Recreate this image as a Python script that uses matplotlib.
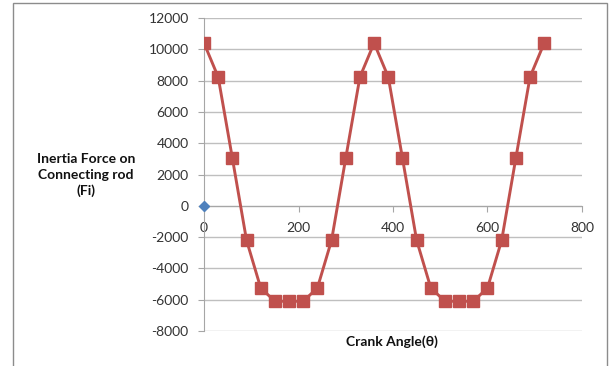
import matplotlib
matplotlib.use('Agg')
import matplotlib.pyplot as plt
from matplotlib.patches import Rectangle

# Crank angle (deg) and inertia force on connecting rod
angles = [0, 30, 60, 90, 120, 150, 180, 210, 240, 270, 300, 330, 360,
          390, 420, 450, 480, 510, 540, 570, 600, 630, 660, 690, 720]
force = [10400, 8230, 3050, -2200, -5250, -6100, -6100, -6100, -5250, -2200, 3050, 8230, 10400,
         8230, 3050, -2200, -5250, -6100, -6100, -6100, -5250, -2200, 3050, 8230, 10400]
origin_x = [0]
origin_y = [0]

xticks = [0, 200, 400, 600, 800]
yticks = list(range(-8000, 12001, 2000))

plt.rcParams['font.family'] = ['Lato', 'DejaVu Sans']
plt.rcParams['axes.unicode_minus'] = False

fig = plt.figure(figsize=(6.1, 3.66), dpi=100)
ax = fig.add_axes([204 / 610, 1 - 331 / 366, (582 - 204) / 610, (331 - 18) / 366])

ax.plot(angles, force, color='#C0504D', linewidth=2.1, marker='s', markersize=8,
        markeredgecolor='#C0504D', markerfacecolor='#C0504D', zorder=3)
ax.plot(origin_x, origin_y, linestyle='none', marker='D', markersize=5.5,
        color='#4F81BD', zorder=4, clip_on=False)

ax.set_xlim(0, 800)
ax.set_ylim(-8000, 12000)
ax.set_xticks(xticks)
ax.set_yticks(yticks)
ax.yaxis.grid(True, color='#BFBFBF', linewidth=1.0)
ax.set_axisbelow(True)

for s in ['top', 'right']:
    ax.spines[s].set_visible(False)
ax.spines['bottom'].set_position(('data', 0))
ax.spines['bottom'].set_color('#A6A6A6')
ax.spines['left'].set_color('#A6A6A6')
ax.tick_params(axis='both', colors='#A6A6A6', labelcolor='#333333', labelsize=10,
               length=4, direction='out')
ax.tick_params(axis='x', pad=8)
ax.tick_params(axis='y', pad=7)

fig.text(86 / 610, 1 - 175 / 366, 'Inertia Force on\nConnecting rod\n(Fi)',
         ha='center', va='center', fontsize=10, fontweight='bold',
         linespacing=1.35, color='#111111')
fig.text(392 / 610, 1 - 342 / 366, 'Crank Angle(θ)', ha='center', va='center',
         fontsize=10, fontweight='bold', color='#111111')

# chart area border
fig.patches.append(Rectangle((13 / 610, -0.05), (607 - 13) / 610, 1.05 - 3 / 366,
                             transform=fig.transFigure, fill=False,
                             edgecolor='#8C8C8C', linewidth=1.0))

fig.savefig('out.png', dpi=100)
